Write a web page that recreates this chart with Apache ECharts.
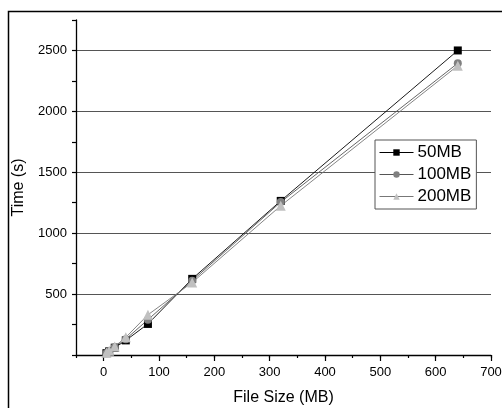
<!DOCTYPE html>
<html>
<head>
<meta charset="utf-8">
<script src="https://cdn.jsdelivr.net/npm/echarts@6/dist/echarts.min.js"></script>
<style>
  html, body { margin: 0; padding: 0; background: #fff; }
  #chart { width: 502px; height: 408px; }
</style>
</head>
<body>
<div id="chart"></div>
<script>
// file sizes (MB) on the x axis
const sizes = [5, 10, 20, 40, 80, 160, 320, 640]
// time in seconds for each block size
const t50 = [15, 30, 60, 120, 255, 625, 1265, 2500]
const t100 = [15, 30, 65, 130, 290, 610, 1255, 2395]
const t200 = [18, 35, 70, 145, 330, 595, 1225, 2375]
const names = ['50MB', '100MB', '200MB']
const xMajor = [0, 100, 200, 300, 400, 500, 600, 700]

const pairs = arr => sizes.map((s, i) => [s, arr[i]])

let chartDom = document.getElementById('chart')
const chart = echarts.init(chartDom, null, { renderer: 'canvas' })

const font = 'Arial, "Liberation Sans", sans-serif'

function lineSeries(name, data, symbol, size, color, lineColor) {
  return {
    name: name,
    type: 'line',
    data: pairs(data),
    symbol: symbol,
    symbolSize: size,
    showAllSymbol: true,
    itemStyle: { color: color },
    lineStyle: { color: lineColor, width: 0.9 },
    emphasis: { disabled: true },
    animation: false
  }
}

let option = {
  animation: false,
  graphic: [
    {
      type: 'rect',
      shape: { x: 8.5, y: 11.5, width: 600, height: 500 },
      style: { fill: 'none', stroke: '#000', lineWidth: 1.5 },
      silent: true,
      z: -1
    }
  ],
  grid: { left: 76, right: 11, top: 20, bottom: 53, outerBoundsMode: 'none', containLabel: false },
  legend: {
    orient: 'vertical',
    left: 375,
    top: 140,
    padding: [4, 5, 4, 4],
    itemGap: 5,
    itemWidth: 34,
    itemHeight: 8,
    backgroundColor: '#fff',
    borderColor: '#555',
    borderWidth: 1,
    selectedMode: false,
    lineStyle: { width: 1 },
    textStyle: { fontFamily: font, fontSize: 17, color: '#000', padding: [0, 0, 0, -1] },
    data: names
  },
  xAxis: [
    {
      type: 'value',
      min: -50,
      max: 700,
      interval: 50,
      name: 'File Size (MB)',
      nameLocation: 'middle',
      nameGap: 35,
      nameTextStyle: { fontFamily: font, fontSize: 16, color: '#000' },
      axisLine: { show: true, onZero: false, lineStyle: { color: '#000', width: 1.3 } },
      axisTick: { show: true, length: 3, lineStyle: { color: '#000', width: 1.2 } },
      axisLabel: {
        fontFamily: font, fontSize: 13, color: '#000', margin: 11,
        formatter: v => (v >= 0 && v % 100 === 0) ? String(v) : ''
      },
      splitLine: { show: false }
    },
    {
      type: 'value',
      min: -50,
      max: 700,
      interval: 50,
      position: 'bottom',
      axisLine: { show: false, onZero: false },
      axisTick: { show: true, length: 6, customValues: xMajor, lineStyle: { color: '#000', width: 1.2 } },
      axisLabel: { show: false },
      splitLine: { show: false }
    }
  ],
  yAxis: [
    {
      type: 'value',
      min: 0,
      max: 2750,
      interval: 250,
      name: 'Time (s)',
      nameLocation: 'middle',
      nameGap: 49,
      nameTextStyle: { fontFamily: font, fontSize: 16, color: '#000' },
      axisLine: { show: true, onZero: false, lineStyle: { color: '#000', width: 1.3 } },
      axisTick: { show: true, length: 4, lineStyle: { color: '#000', width: 1.2 } },
      axisLabel: {
        fontFamily: font, fontSize: 13, color: '#000', margin: 9,
        formatter: v => (v > 0 && v % 500 === 0) ? String(v) : ''
      },
      splitLine: { show: false }
    },
    {
      type: 'value',
      min: 0,
      max: 2750,
      interval: 500,
      position: 'left',
      axisLine: { show: false, onZero: false },
      axisTick: { show: false },
      axisLabel: { show: false },
      splitLine: { show: true, showMinLine: false, showMaxLine: false, lineStyle: { color: '#555', width: 1.2 } }
    }
  ],
  series: [
    lineSeries(names[0], t50, 'rect', 8, '#000', '#000'),
    lineSeries(names[1], t100, 'circle', 8, '#808080', '#555'),
    lineSeries(names[2], t200, 'triangle', 10, '#c0c0c0', '#777')
  ]
}

chart.setOption(option)
</script>
</body>
</html>
